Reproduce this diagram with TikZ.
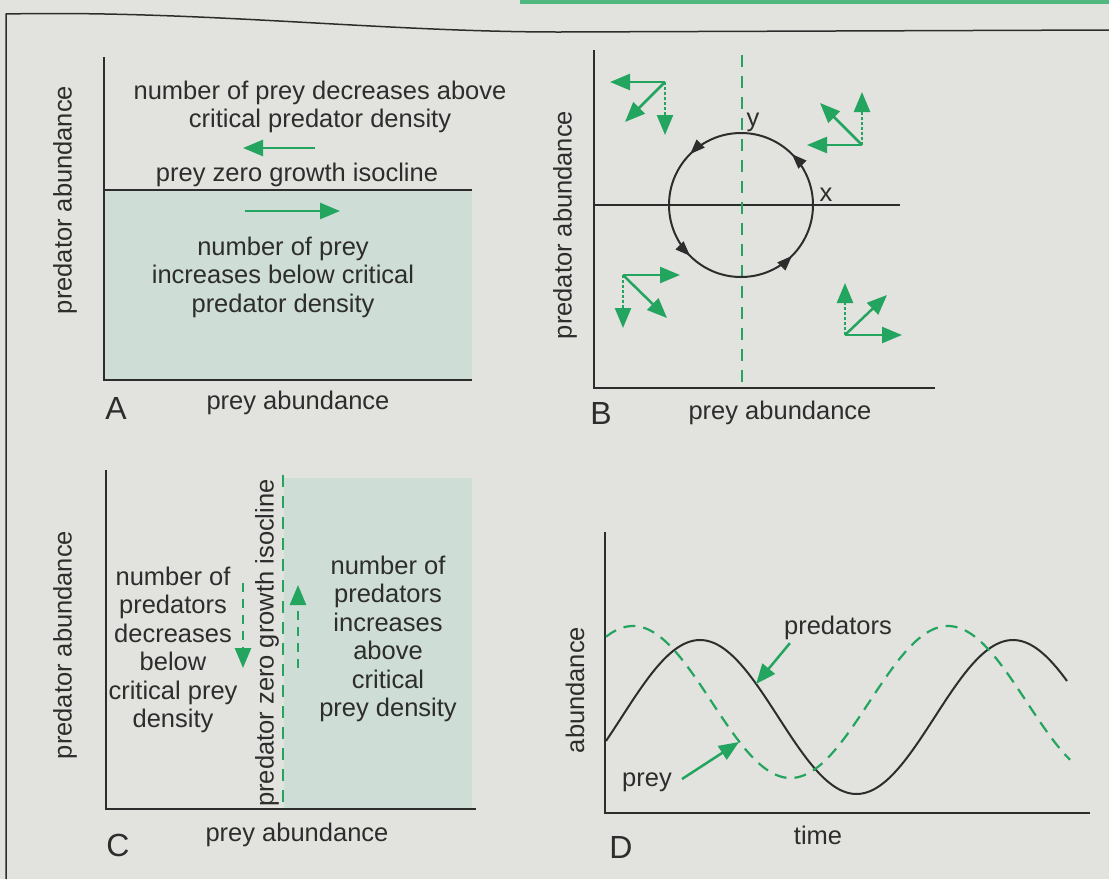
\documentclass[tikz,border=0pt]{standalone}
\usepackage{fontspec}
\setmainfont{Liberation Sans}
\usetikzlibrary{arrows.meta,decorations.markings}
\definecolor{paper}{RGB}{226,226,222}
\definecolor{isoshade}{RGB}{206,221,213}
\definecolor{arrowgreen}{RGB}{36,165,95}
\definecolor{ink}{RGB}{45,45,45}
\tikzset{
  axis/.style={ink, line width=2pt},
  isoline/.style={arrowgreen, line width=2pt, dash pattern=on 12pt off 9pt},
  vec/.style={arrowgreen, line width=2.5pt, -{Triangle[length=20pt,width=16pt]}},
  dotvec/.style={vec, dash pattern=on 3pt off 2pt},
  dashvec/.style={vec, dash pattern=on 9pt off 7pt},
  txt/.style={ink, font=\fontsize{25.5}{28.5}\selectfont, align=center, inner sep=0pt},
  panel/.style={ink, font=\fontsize{32}{32}\selectfont, inner sep=0pt},
}
\begin{document}
\begin{tikzpicture}[x=1pt, y=-1pt]
  \useasboundingbox (0,0) rectangle (1109,879);
  % Page and frame
  \fill[paper] (0,0) rectangle (1109,879);
  \fill[arrowgreen!80] (520,0) rectangle (1109,4);
  \draw[ink, line width=1.5pt] (6,879) -- (6,14) .. controls (200,10) and (380,32) .. (560,32) -- (1109,30);

  % Panel A: prey isocline
  \fill[isoshade] (104,190) rectangle (472,380);
  \draw[axis] (104,57) -- (104,380) -- (472,380);
  \draw[axis, line width=1.8pt] (104,190) -- (472,190);
  \node[txt] (aTop) at (320,107) {number of prey decreases above\\critical predator density};
  \node[txt] (aIso) at (297,175) {prey zero growth isocline};
  \node[txt] (aBot) at (283,277) {number of prey\\increases below critical\\predator density};
  \coordinate (aLs) at (315,148);
  \coordinate (aLe) at (243,148);
  \coordinate (aRs) at (245,211);
  \coordinate (aRe) at (340,211);
  \draw[vec] (aLs) -- (aLe);
  \draw[vec] (aRs) -- (aRe);
  \node[txt, rotate=90] (aY) at (65,200) {predator abundance};
  \node[txt] (aX) at (298,403) {prey abundance};
  \node[panel] (aLbl) at (116,408) {A};

  % Panel B: joint isoclines and cycle
  \draw[axis] (594,50) -- (594,388) -- (935,388);
  \draw[axis, line width=1.8pt] (594,205) -- (900,205);
  \draw[isoline] (742,55) -- (742,385);
  \coordinate (cB) at (741,205);
  \draw[ink, line width=2pt, postaction={decorate}, decoration={markings,
      mark=at position 0.125 with {\arrowreversed{Triangle[length=15pt,width=11pt]}},
      mark=at position 0.375 with {\arrowreversed{Triangle[length=15pt,width=11pt]}},
      mark=at position 0.625 with {\arrowreversed{Triangle[length=15pt,width=11pt]}},
      mark=at position 0.875 with {\arrowreversed{Triangle[length=15pt,width=11pt]}}}]
    (cB) circle (72);
  \node[txt] (bYlbl) at (753,122) {y};
  \node[txt] (bXlbl) at (826,195) {x};
  % vector sets in the four quarters
  \coordinate (tl) at (665,82);
  \draw[vec] (tl) -- (610,82);
  \draw[vec] (tl) -- (625,122);
  \draw[dotvec] (tl) -- (665,135);
  \coordinate (tr) at (862,145);
  \draw[vec] (tr) -- (807,145);
  \draw[vec] (tr) -- (820,103);
  \draw[dotvec] (tr) -- (862,92);
  \coordinate (bl) at (623,275);
  \draw[vec] (bl) -- (680,275);
  \draw[vec] (bl) -- (667,318);
  \draw[dotvec] (bl) -- (623,328);
  \coordinate (br) at (845,335);
  \draw[vec] (br) -- (902,335);
  \draw[vec] (br) -- (887,295);
  \draw[dotvec] (br) -- (845,283);
  \node[txt, rotate=90] (bY) at (565,225) {predator abundance};
  \node[txt] (bX) at (780,413) {prey abundance};
  \node[panel] (bLbl) at (601,413) {B};

  % Panel C: predator isocline
  \fill[isoshade] (284,478) rectangle (472,808);
  \draw[axis] (106,470) -- (106,809) -- (476,809);
  \draw[isoline] (283,475) -- (283,806);
  \node[txt, rotate=90] (cIso) at (267,643) {predator zero growth isocline};
  \node[txt] (cLeft) at (173,650) {number of\\predators\\decreases\\below\\critical prey\\density};
  \node[txt] (cRight) at (388,639) {number of\\predators\\increases\\above\\critical\\prey density};
  \coordinate (cDs) at (243,583);
  \coordinate (cDe) at (243,668);
  \coordinate (cUs) at (298,668);
  \coordinate (cUe) at (298,585);
  \draw[dashvec] (cDs) -- (cDe);
  \draw[dashvec] (cUs) -- (cUe);
  \node[txt, rotate=90] (cY) at (65,645) {predator abundance};
  \node[txt] (cX) at (297,835) {prey abundance};
  \node[panel] (cLbl) at (118,845) {C};

  % Panel D: cycles in time
  \draw[axis] (605,532) -- (605,813) -- (1090,813);
  \draw[ink, line width=2pt] plot[domain=606:1067, samples=90, smooth]
    (\x, {717-77*cos(deg(2*pi*(\x-700)/313))});
  \draw[arrowgreen, line width=2.2pt, dash pattern=on 12pt off 8pt] plot[domain=606:1070, samples=90, smooth]
    (\x, {702-76*cos(deg(2*pi*(\x-633)/315))});
  \node[txt] (dPred) at (838,628) {predators};
  \node[txt] (dPrey) at (647,782) {prey};
  \coordinate (dPredTip) at (756,684);
  \coordinate (dPreyTip) at (739,742);
  \draw[vec] ([xshift=6pt,yshift=-3pt]dPred.south west) -- (dPredTip);
  \draw[vec] ([xshift=10pt,yshift=3pt]dPrey.east) -- (dPreyTip);
  \node[txt, rotate=90] (dY) at (575,690) {abundance};
  \node[txt] (dX) at (818,835) {time};
  \node[panel] (dLbl) at (621,847) {D};
\end{tikzpicture}
\end{document}
